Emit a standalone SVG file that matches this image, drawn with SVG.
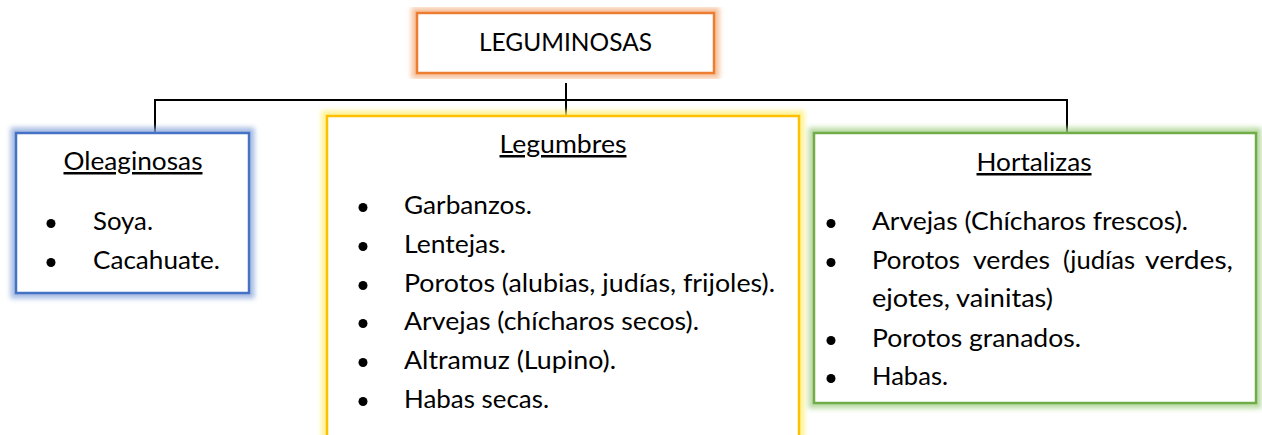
<svg xmlns="http://www.w3.org/2000/svg" width="1262" height="435" viewBox="0 0 1262 435">
<style>
  text { font-family: Lato, "Open Sans", "Liberation Sans", sans-serif; font-size: 25px; fill: #000; }
  .title { text-anchor: middle; text-decoration: underline; }
  .conn { stroke: #000; stroke-width: 2; fill: none; }
  .box { fill: #fff; stroke-width: 2.5; }
  .glow { fill: none; stroke-width: 11; filter: url(#blur); opacity: 0.8; }
  .bul { fill: #000; }
</style>
<defs>
  <filter id="blur" x="-10%" y="-10%" width="120%" height="120%">
    <feGaussianBlur stdDeviation="2.8"/>
  </filter>
</defs>
<rect width="1262" height="435" fill="#fff"/>

<g id="connectors">
  <line class="conn" x1="566" y1="83" x2="566" y2="116"/>
  <line class="conn" x1="155" y1="100" x2="1068" y2="100"/>
  <line class="conn" x1="155" y1="99" x2="155" y2="133"/>
  <line class="conn" x1="1067" y1="99" x2="1067" y2="133"/>
</g>

<g id="leguminosas">
  <rect class="glow" x="417" y="13" width="297" height="60" stroke="#F4B183"/>
  <rect class="box" x="417" y="13" width="297" height="60" stroke="#ED7D31"/>
  <text x="565.5" y="51" text-anchor="middle" textLength="173" lengthAdjust="spacingAndGlyphs">LEGUMINOSAS</text>
</g>

<g id="oleaginosas">
  <rect class="glow" x="16" y="133" width="233" height="160" stroke="#8FAADC"/>
  <rect class="box" x="16" y="133" width="233" height="160" stroke="#4472C4"/>
  <text class="title" x="133" y="170" textLength="139" lengthAdjust="spacingAndGlyphs">Oleaginosas</text>
  <circle class="bul" cx="51" cy="223.5" r="4.5"/>
  <text x="93" y="230" textLength="60" lengthAdjust="spacingAndGlyphs">Soya.</text>
  <circle class="bul" cx="51" cy="262.5" r="4.5"/>
  <text x="93" y="269" textLength="127" lengthAdjust="spacingAndGlyphs">Cacahuate.</text>
</g>

<g id="legumbres">
  <rect class="glow" x="327" y="116" width="472" height="330" stroke="#FFF07A"/>
  <rect class="box" x="327" y="116" width="472" height="330" stroke="#FFC000"/>
  <text class="title" x="563" y="153" textLength="127" lengthAdjust="spacingAndGlyphs">Legumbres</text>
  <circle class="bul" cx="363" cy="207.5" r="4.5"/>
  <text x="404" y="214" textLength="128" lengthAdjust="spacingAndGlyphs">Garbanzos.</text>
  <circle class="bul" cx="363" cy="246.5" r="4.5"/>
  <text x="404" y="253" textLength="102" lengthAdjust="spacingAndGlyphs">Lentejas.</text>
  <circle class="bul" cx="363" cy="285.5" r="4.5"/>
  <text x="404" y="292" textLength="371" lengthAdjust="spacingAndGlyphs">Porotos (alubias, judías, frijoles).</text>
  <circle class="bul" cx="363" cy="323.5" r="4.5"/>
  <text x="404" y="330" textLength="295" lengthAdjust="spacingAndGlyphs">Arvejas (chícharos secos).</text>
  <circle class="bul" cx="363" cy="362.5" r="4.5"/>
  <text x="404" y="369" textLength="212" lengthAdjust="spacingAndGlyphs">Altramuz (Lupino).</text>
  <circle class="bul" cx="363" cy="401.5" r="4.5"/>
  <text x="404" y="408" textLength="145" lengthAdjust="spacingAndGlyphs">Habas secas.</text>
</g>

<g id="hortalizas">
  <rect class="glow" x="814" y="133" width="442" height="270" stroke="#A9D18E"/>
  <rect class="box" x="814" y="133" width="442" height="270" stroke="#70AD47"/>
  <text class="title" x="1034" y="171" textLength="115" lengthAdjust="spacingAndGlyphs">Hortalizas</text>
  <circle class="bul" cx="831" cy="223.5" r="4.5"/>
  <text x="872" y="230" textLength="316" lengthAdjust="spacingAndGlyphs">Arvejas (Chícharos frescos).</text>
  <circle class="bul" cx="831" cy="262.5" r="4.5"/>
  <text y="269"><tspan x="872" textLength="88" lengthAdjust="spacingAndGlyphs">Porotos</tspan> <tspan x="973" textLength="77" lengthAdjust="spacingAndGlyphs">verdes</tspan> <tspan x="1063" textLength="72" lengthAdjust="spacingAndGlyphs">(judías</tspan> <tspan x="1145" textLength="88" lengthAdjust="spacingAndGlyphs">verdes,</tspan></text>
  <text x="872" y="307" textLength="181" lengthAdjust="spacingAndGlyphs">ejotes, vainitas)</text>
  <circle class="bul" cx="831" cy="340.5" r="4.5"/>
  <text x="872" y="347" textLength="209" lengthAdjust="spacingAndGlyphs">Porotos granados.</text>
  <circle class="bul" cx="831" cy="378.5" r="4.5"/>
  <text x="872" y="385" textLength="76" lengthAdjust="spacingAndGlyphs">Habas.</text>
</g>
</svg>
